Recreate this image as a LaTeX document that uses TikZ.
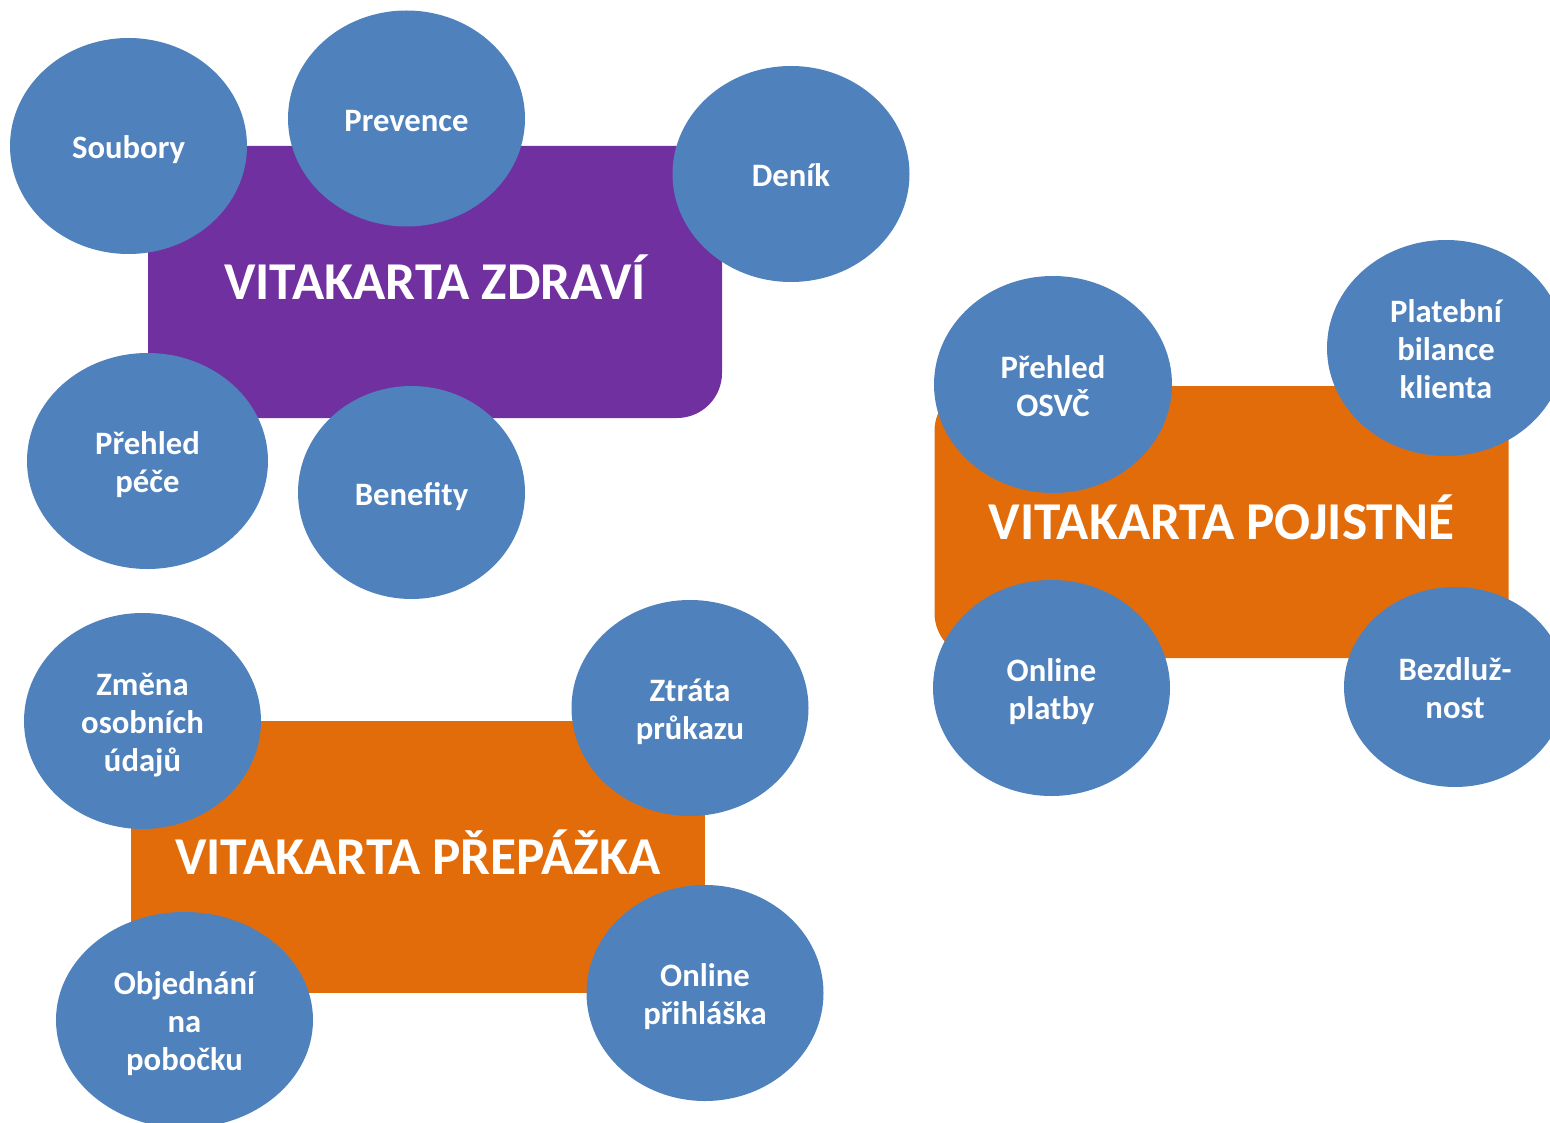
\documentclass[tikz,border=0pt]{standalone}
\usepackage{fontspec}
\setmainfont{Carlito}
\usetikzlibrary{shapes.geometric, positioning}
\definecolor{bubbleblue}{HTML}{4F81BD}
\definecolor{zdravipurple}{HTML}{7030A0}
\definecolor{vitaorange}{HTML}{E36C0A}
% lines of a bubble, set a little low
\newcommand*{\bubtext}[1]{\raisebox{-1.5pt}[\height][\depth]{\begin{tabular}{@{}c@{}}#1\end{tabular}}}

\begin{document}
\begin{tikzpicture}[
		card/.style={minimum width=5.74cm,minimum height=2.72cm,inner sep=0pt,
			text height=9.8pt,text depth=0pt,
			text=white,font=\fontsize{15.15}{18}\selectfont\bfseries},
		bubble/.style={ellipse,fill=bubbleblue,minimum width=2.37cm,minimum height=2.16cm,
			inner sep=0pt,text=white,font=\fontsize{9.3}{10.8}\selectfont\bfseries}]
	\clip (0,0) rectangle (15.5,11.22);
	% the three cards
	\node[card,fill=zdravipurple,rounded corners=0.45cm] (zdravi) at (4.35,8.40) {VITAKARTA ZDRAVÍ};
	\node[card,fill=vitaorange,rounded corners=0.45cm] (pojistne) at (12.215,6.00) {VITAKARTA POJISTNÉ};
	\node[card,fill=vitaorange] (prepazka) at (4.18,2.65) {VITAKARTA PŘEPÁŽKA};
	% bubbles round the cards
	\node[bubble] (soubory) at (1.285,9.76) {\bubtext{Soubory}};
	\node[bubble] (prevence) at (4.065,10.035) {\bubtext{Prevence}};
	\node[bubble] (denik) at (7.91,9.48) {\bubtext{Deník}};
	\node[bubble,minimum width=2.41cm] (pece) at (1.475,6.61) {\bubtext{Přehled\\péče}};
	\node[bubble,minimum width=2.27cm,minimum height=2.13cm] (benefity) at (4.115,6.295) {\bubtext{Benefity}};
	\node[bubble,minimum width=2.38cm,minimum height=2.17cm] (osvc) at (10.53,7.375) {\bubtext{Přehled\\OSVČ}};
	\node[bubble,minimum width=2.38cm] (bilance) at (14.46,7.74) {\bubtext{Platební\\bilance\\klienta}};
	\node[bubble] (platby) at (10.515,4.34) {\bubtext{Online\\platby}};
	\node[bubble,minimum width=2.22cm,minimum height=2.0cm] (bezdluznost) at (14.55,4.35) {\bubtext{Bezdluž-\\nost}};
	\node[bubble] (zmena) at (1.425,4.01) {\bubtext{Změna\\osobních\\údajů}};
	\node[bubble] (ztrata) at (6.90,4.14) {\bubtext{Ztráta\\průkazu}};
	\node[bubble,minimum width=2.57cm] (objednani) at (1.845,1.02) {\bubtext{Objednání\\na\\pobočku}};
	\node[bubble] (prihlaska) at (7.05,1.29) {\bubtext{Online\\přihláška}};
\end{tikzpicture}
\end{document}
